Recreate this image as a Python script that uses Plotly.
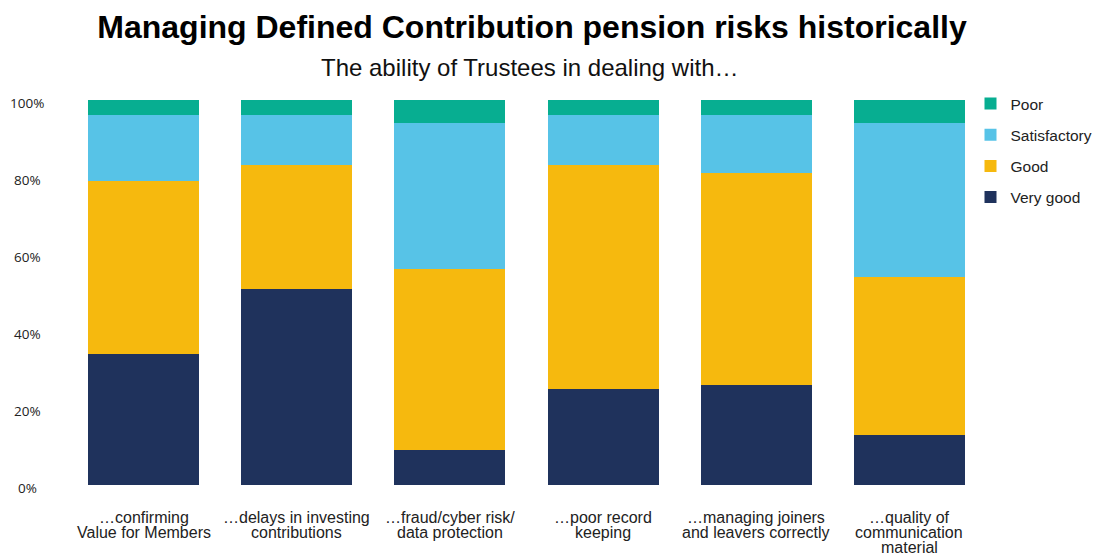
import plotly.graph_objects as go

categories = [
    "…confirming<br>Value for Members",
    "…delays in investing<br>contributions",
    "…fraud/cyber risk/<br>data protection",
    "…poor record<br>keeping",
    "…managing joiners<br>and leavers correctly",
    "…quality of<br>communication<br>material",
]
very_good = [34, 51, 9, 25, 26, 13]
good = [45, 32, 47, 58, 55, 41]
satisfactory = [17, 13, 38, 13, 15, 40]
poor = [4, 4, 6, 4, 4, 6]

y_ticks = [0, 20, 40, 60, 80, 100]
y_tick_labels = ["0%", "20%", "40%", "60%", "80%", "100%"]

# stacked bottom-to-top; legend lists them top-to-bottom in reverse
series = [
    ("Very good", very_good, "#1F325C", 4),
    ("Good", good, "#F6B90E", 3),
    ("Satisfactory", satisfactory, "#57C3E7", 2),
    ("Poor", poor, "#07AE91", 1),
]

fig = go.Figure()
for name, vals, color, rank in series:
    fig.add_trace(go.Bar(
        name=name, x=categories, y=vals,
        marker=dict(color=color, line=dict(width=0)),
        legendgroup=name, legendrank=rank,
    ))

W, H = 1094, 555
ml, mr, mt, mb = 67, 108, 100, 70
plot_w = W - ml - mr
plot_h = H - mt - mb

fig.update_layout(
    width=W, height=H,
    margin=dict(l=ml, r=mr, t=mt, b=mb, autoexpand=False),
    barmode="stack", bargap=0.275,
    paper_bgcolor="white", plot_bgcolor="white",
    font=dict(family="Liberation Sans, Arial, sans-serif", color="#222222"),
    title=dict(
        text="<b>Managing Defined Contribution pension risks historically</b>",
        x=532 / W, xanchor="center", y=1 - 27 / H, yanchor="middle",
        font=dict(size=32, color="#000000"),
    ),
    legend=dict(
        traceorder="grouped", x=(970.5 - ml) / plot_w, xanchor="left",
        y=(H - mb - 87) / plot_h, yanchor="top", tracegroupgap=8,
        font=dict(size=15.5, color="#222222"), itemwidth=30,
    ),
    xaxis=dict(
        showline=False, showgrid=False, ticks="", showticklabels=False,
    ),
    yaxis=dict(
        range=[0, 100], showgrid=False, showline=False, zeroline=False,
        tickvals=y_ticks, showticklabels=False, ticks="",
    ),
)

fig.add_annotation(
    text="The ability of Trustees in dealing with…",
    xref="paper", yref="paper", x=(529.5 - ml) / plot_w,
    y=(H - mb - 68) / plot_h, xanchor="center", yanchor="middle",
    showarrow=False, font=dict(size=24, color="#111111"),
)

# y-axis percentage labels, centred in the left margin
for v, lab in zip(y_ticks, y_tick_labels):
    fig.add_annotation(
        text=lab, xref="paper", yref="y", x=(27 - ml) / plot_w, y=v,
        xanchor="center", yanchor="middle", yshift=-3, showarrow=False,
        font=dict(size=13.5, color="#222222", family="Open Sans, sans-serif"),
    )

# category labels below each bar, one line at a time for tight spacing
for cat in categories:
    for i, line in enumerate(cat.split("<br>")):
        fig.add_annotation(
            text=line, xref="x", yref="paper", x=cat, y=0,
            xanchor="center", yanchor="middle", borderpad=0,
            yshift=-(32.5 + 14.9 * i), showarrow=False,
            font=dict(size=16, color="#222222"),
        )

fig.write_html("out.html")
